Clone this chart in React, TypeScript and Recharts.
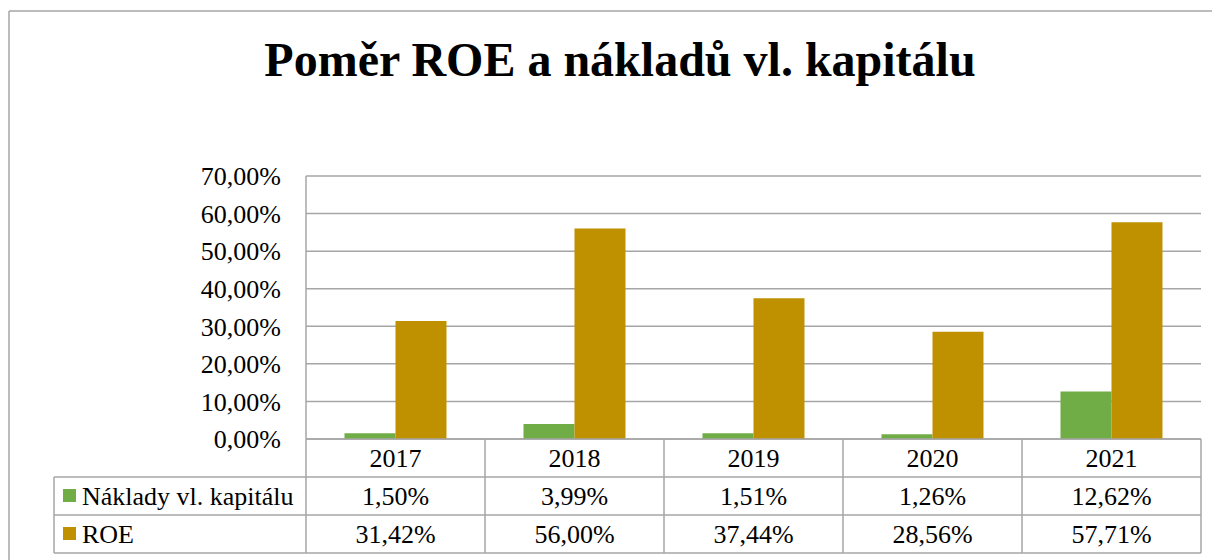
import { Bar, BarChart, CartesianGrid, Customized, XAxis, YAxis } from "recharts";

const years = ["2017", "2018", "2019", "2020", "2021"];
const nakladyVk = [1.5, 3.99, 1.51, 1.26, 12.62];
const roe = [31.42, 56.0, 37.44, 28.56, 57.71];
const yTicks = [0, 10, 20, 30, 40, 50, 60, 70];

const seriesNames = ["Náklady vl. kapitálu", "ROE"];
const GREEN = "#70ad47";
const GOLD = "#bf9000";
const GRID = "#a6a6a6";
const FONT = '"Liberation Serif", "Times New Roman", serif';

// layout (chart svg coordinates)
const W = 1212;
const H = 552;
const PLOT_LEFT = 298;
const PLOT_RIGHT = 1193;
const PLOT_TOP = 168;
const PLOT_BOTTOM = 431;
const ROW_H = 38;
const TABLE_BOTTOM = PLOT_BOTTOM + ROW_H * 3;
const TABLE_LEFT = 46;
const COL_W = (PLOT_RIGHT - PLOT_LEFT) / years.length;
const Y_AXIS_W = 100;

const data = years.map((year, i) => ({ year, naklady: nakladyVk[i], roe: roe[i] }));

const pct = (v: number) => `${v.toFixed(2).replace(".", ",")}%`;

function TableTick(props: any) {
  const { x, payload } = props;
  const i = payload.index;
  const rowY = (r: number) => PLOT_BOTTOM + ROW_H * r + ROW_H / 2 + 9;
  return (
    <g>
      <text x={x} y={rowY(0)} textAnchor="middle" fontSize={26} fontFamily={FONT} fill="#000">
        {payload.value}
      </text>
      <text x={x} y={rowY(1)} textAnchor="middle" fontSize={26} fontFamily={FONT} fill="#000">
        {pct(nakladyVk[i])}
      </text>
      <text x={x} y={rowY(2)} textAnchor="middle" fontSize={26} fontFamily={FONT} fill="#000">
        {pct(roe[i])}
      </text>
      <line x1={x + COL_W / 2} x2={x + COL_W / 2} y1={PLOT_BOTTOM} y2={TABLE_BOTTOM} stroke={GRID} strokeWidth={1.5} />
    </g>
  );
}

function Decorations() {
  const colors = [GREEN, GOLD];
  return (
    <g>
      {/* outer frame */}
      <line x1={1} x2={W} y1={3} y2={3} stroke={GRID} strokeWidth={1.5} />
      <line x1={1} x2={1} y1={3} y2={H} stroke={GRID} strokeWidth={1.5} />
      <text x={612} y={68} textAnchor="middle" fontSize={48} fontWeight="bold" fontFamily={FONT} fill="#000">
        Poměr ROE a nákladů vl. kapitálu
      </text>
      {/* data table lines */}
      {[1, 2, 3].map((r) => (
        <line
          key={r}
          x1={TABLE_LEFT}
          x2={PLOT_RIGHT}
          y1={PLOT_BOTTOM + ROW_H * r}
          y2={PLOT_BOTTOM + ROW_H * r}
          stroke={GRID}
          strokeWidth={1.5}
        />
      ))}
      <line x1={TABLE_LEFT} x2={TABLE_LEFT} y1={PLOT_BOTTOM + ROW_H} y2={TABLE_BOTTOM} stroke={GRID} strokeWidth={1.5} />
      <line x1={PLOT_LEFT} x2={PLOT_LEFT} y1={PLOT_BOTTOM} y2={TABLE_BOTTOM} stroke={GRID} strokeWidth={1.5} />
      {seriesNames.map((name, r) => {
        const cy = PLOT_BOTTOM + ROW_H * (r + 1) + ROW_H / 2;
        return (
          <g key={name}>
            <rect x={55} y={cy - 7} width={13} height={13} fill={colors[r]} />
            <text x={74} y={cy + 9} fontSize={26} fontFamily={FONT} fill="#000">
              {name}
            </text>
          </g>
        );
      })}
    </g>
  );
}

export default function App() {
  return (
    <div style={{ width: W, height: H, background: "#fff" }}>
      <BarChart
        width={W}
        height={H}
        data={data}
        margin={{ top: PLOT_TOP, right: W - PLOT_RIGHT, bottom: H - TABLE_BOTTOM, left: PLOT_LEFT - Y_AXIS_W }}
        barCategoryGap="21.5%"
        barGap={0}
      >
        <CartesianGrid vertical={false} stroke={GRID} strokeWidth={1.5} />
        <XAxis
          dataKey="year"
          height={TABLE_BOTTOM - PLOT_BOTTOM}
          axisLine={{ stroke: GRID, strokeWidth: 1.5 }}
          tickLine={false}
          tick={<TableTick />}
          interval={0}
        />
        <YAxis
          width={Y_AXIS_W}
          domain={[0, 70]}
          ticks={yTicks}
          tickFormatter={pct}
          axisLine={{ stroke: GRID, strokeWidth: 1.5 }}
          tickLine={false}
          tickSize={0}
          tickMargin={25}
          tick={{ fontSize: 26, fontFamily: FONT, fill: "#000" }}
        />
        <Bar dataKey="naklady" name={seriesNames[0]} fill={GREEN} isAnimationActive={false} />
        <Bar dataKey="roe" name={seriesNames[1]} fill={GOLD} isAnimationActive={false} />
        <Customized component={<Decorations />} />
      </BarChart>
    </div>
  );
}
